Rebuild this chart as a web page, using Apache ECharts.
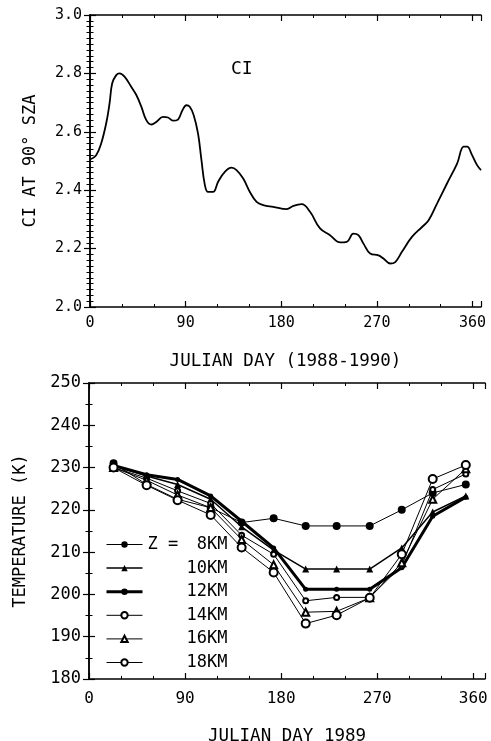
<!DOCTYPE html>
<html><head><meta charset="utf-8">
<script src="https://cdn.jsdelivr.net/npm/echarts@6/dist/echarts.min.js"></script>
<style>html,body{margin:0;padding:0;background:#fff}#c{width:491px;height:741px}</style>
</head><body><div id="c"></div>
<script>
// ---- Top panel: CI at 90° SZA ----
const ciDays = [0,5.8,10.5,15.3,18.4,20.9,24.7,27.8,32.5,38.8,43.6,48.3,53,57.7,62.5,68.7,73.4,78.1,82.8,87,90.7,93.9,97.6,101.7,104.9,108,111.1,115.8,120.6,126.9,133.2,137.9,144.2,150.5,156.8,163,172.5,185.1,191.4,199.2,207.1,216.5,225.9,235.4,241.7,247.9,252.6,257.4,263.7,271.5,276.2,282.5,287.3,293.6,303,312.5,318.7,326.6,336,345.5,351.7,354.9,359.6,364.3,368];
const ciValues = [2.505,2.52,2.56,2.63,2.697,2.766,2.794,2.80,2.789,2.754,2.726,2.686,2.64,2.625,2.634,2.651,2.649,2.638,2.642,2.674,2.691,2.686,2.657,2.594,2.503,2.42,2.394,2.394,2.429,2.463,2.477,2.469,2.44,2.394,2.36,2.349,2.343,2.335,2.346,2.352,2.326,2.269,2.246,2.221,2.223,2.251,2.246,2.217,2.183,2.177,2.166,2.149,2.154,2.189,2.24,2.274,2.297,2.354,2.423,2.491,2.549,2.549,2.52,2.486,2.469];
const ciTicks = [2.0,2.2,2.4,2.6,2.8,3.0];
const dayTicks = [0,90,180,270,360];

// ---- Bottom panel: temperature 1989 ----
const tDays = [23,54,83,114,143,173,203,232,263,293,322,353];
const t8  = [231,226,222.5,220.5,217,218,216.2,216.2,216.2,220,224,226];
const t10 = [230.5,228,226,222.5,216,210.5,206,206,206,211,219.5,223.3];
const t12 = [230.5,228.3,227.2,223.3,217.3,211,201.2,201.2,201.2,206.3,218.5,223];
const t14 = [230,227.5,224.5,221.5,214,209.5,198.5,199.3,199.3,206.8,224.8,228.5];
const t16 = [230,227,223.5,220.5,213,207,195.8,196,199.2,207.5,222.5,229.7];
const t18 = [230,225.8,222.3,218.8,211.1,205.2,193.1,195.1,199.2,209.5,227.3,230.6];
const levelNames = ['8KM','10KM','12KM','14KM','16KM','18KM'];
const levelWidths = [1,1.5,3,1,1,1];

const FONT = 'DejaVu Sans Mono';
const pair = (xs, ys) => xs.map((x,i)=>[x,ys[i]]);
const lbl = size => ({color:'#000', fontFamily:FONT, fontSize:size});

function xAx(grid, max, pos, show, fs, margin){
  return {type:'value', gridIndex:grid, position:pos, min:0, max:max, interval:90,
    axisLine:{show:true, lineStyle:{color:'#000', width:1.5}},
    axisTick:{show:true, inside:true, length:6, lineStyle:{color:'#000', width:1.2}},
    minorTick:{show:true, splitNumber:3, length:3, lineStyle:{color:'#000', width:1}},
    splitLine:{show:false}, minorSplitLine:{show:false},
    axisLabel:{show:show, ...lbl(fs), margin:margin,
      formatter:v => dayTicks.includes(v) ? String(v) : ''}};
}
function yAx(grid, pos, min, max, interval, split, show, fs, fmt){
  return {type:'value', gridIndex:grid, position:pos, min:min, max:max, interval:interval,
    axisLine:{show:true, lineStyle:{color:'#000', width:1.5}},
    axisTick:{show:true, inside:true, length:6, lineStyle:{color:'#000', width:1.2}},
    minorTick:{show:true, splitNumber:split, length:3.5, lineStyle:{color:'#000', width:1}},
    splitLine:{show:false},
    axisLabel:{show:show, ...lbl(fs), margin:8, formatter:fmt}};
}

const option = {
  animation:false,
  backgroundColor:'#fff',
  title:{text:'CI', left:231, top:60, padding:0,
    textStyle:{fontFamily:FONT, fontSize:18, fontWeight:'normal', color:'#000'}},
  grid:[
    {left:90, top:15, width:391, height:292, show:false, containLabel:false, outerBoundsMode:'none'},
    {left:89, top:383, width:396, height:296, show:false, containLabel:false, outerBoundsMode:'none'}
  ],
  xAxis:[
    Object.assign(xAx(0,368,'bottom',true,15,9), {name:'JULIAN DAY (1988-1990)', nameLocation:'middle', nameGap:45,
      nameTextStyle:lbl(17.5)}),
    xAx(0,368,'top',false,15,9),
    Object.assign(xAx(1,371,'bottom',true,16,12), {name:'JULIAN DAY 1989', nameLocation:'middle', nameGap:48,
      nameTextStyle:lbl(17.5)}),
    xAx(1,371,'top',false,16,12)
  ],
  yAxis:[
    Object.assign(yAx(0,'left',2.0,3.0,0.2,10,true,15,v=>v.toFixed(1)),
      {name:'CI AT 90° SZA', nameLocation:'middle', nameGap:51, nameRotate:90, nameTextStyle:lbl(17)}),
    yAx(0,'right',2.0,3.0,0.2,10,false,15),
    Object.assign(yAx(1,'left',180,250,10,2,true,17,v=>String(v)),
      {name:'TEMPERATURE (K)', nameLocation:'middle', nameGap:60, nameRotate:90, nameTextStyle:lbl(17)}),
    yAx(1,'right',180,250,10,2,false,17)
  ],
  legend:{
    orient:'vertical', left:100, top:531, itemWidth:36, itemHeight:8, itemGap:6.6,
    data:levelNames.map((n,i)=>({name:n, lineStyle:{width:levelWidths[i], color:'#000'}})),
    textStyle:{...lbl(17), lineHeight:8,
      rich:{
        z:{fontFamily:FONT, fontSize:17, color:'#000', width:36, align:'left', lineHeight:8},
        v:{fontFamily:FONT, fontSize:17, color:'#000', width:80, align:'right', lineHeight:8},
        w:{fontFamily:FONT, fontSize:17, color:'#000', width:44, align:'right', lineHeight:8}
      }},
    formatter:n => n === '8KM' ? '{z|Z =}{w|' + n + '}' : '{v|' + n + '}'
  },
  series:[
    {type:'line', xAxisIndex:0, yAxisIndex:0, data:pair(ciDays,ciValues), smooth:0.4,
      showSymbol:false, lineStyle:{color:'#000', width:1.8}, silent:true},
    {name:'8KM', type:'line', xAxisIndex:2, yAxisIndex:2, data:pair(tDays,t8),
      symbol:'circle', symbolSize:8, itemStyle:{color:'#000'}, lineStyle:{color:'#000', width:levelWidths[0]}},
    {name:'10KM', type:'line', xAxisIndex:2, yAxisIndex:2, data:pair(tDays,t10),
      symbol:'triangle', symbolSize:7, itemStyle:{color:'#000'}, lineStyle:{color:'#000', width:levelWidths[1]}},
    {name:'12KM', type:'line', xAxisIndex:2, yAxisIndex:2, data:pair(tDays,t12),
      symbol:'circle', symbolSize:5, itemStyle:{color:'#000'}, lineStyle:{color:'#000', width:levelWidths[2]}},
    {name:'14KM', type:'line', xAxisIndex:2, yAxisIndex:2, data:pair(tDays,t14),
      symbol:'emptyCircle', symbolSize:5, itemStyle:{color:'#000', borderWidth:1}, lineStyle:{color:'#000', width:levelWidths[3]}},
    {name:'16KM', type:'line', xAxisIndex:2, yAxisIndex:2, data:pair(tDays,t16),
      symbol:'emptyTriangle', symbolSize:7, itemStyle:{color:'#000', borderWidth:1}, lineStyle:{color:'#000', width:levelWidths[4]}},
    {name:'18KM', type:'line', xAxisIndex:2, yAxisIndex:2, data:pair(tDays,t18),
      symbol:'emptyCircle', symbolSize:8, itemStyle:{color:'#000', borderWidth:1}, lineStyle:{color:'#000', width:levelWidths[5]}}
  ]
};
const chart = echarts.init(document.getElementById('c'), null, {renderer:'canvas'});
chart.setOption(option);
</script></body></html>
